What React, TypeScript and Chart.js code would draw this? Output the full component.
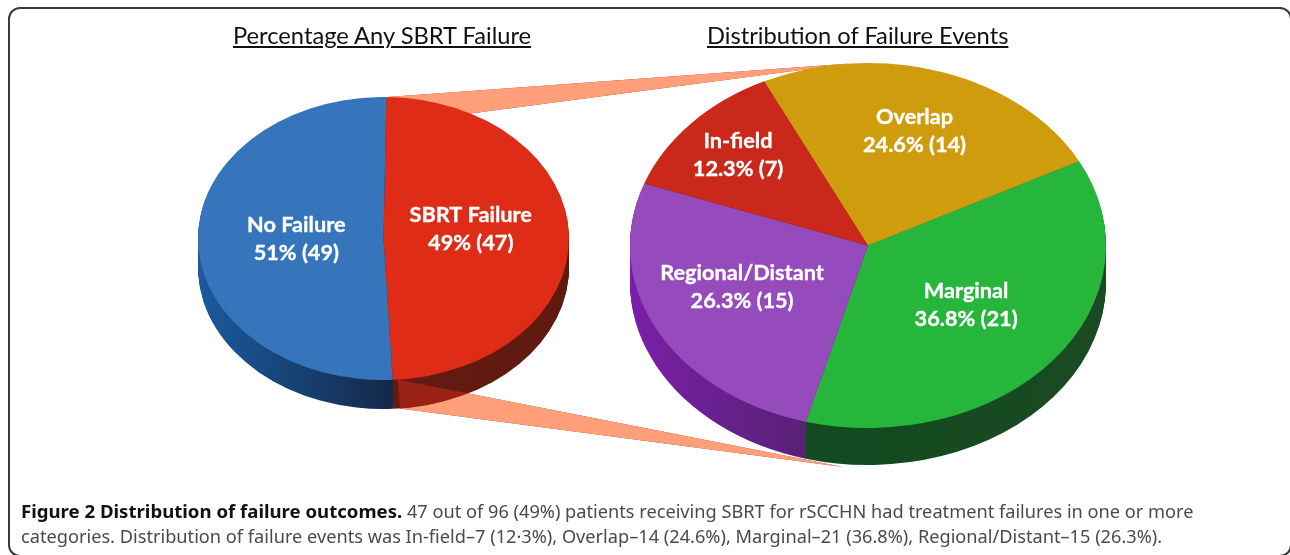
import React, { useEffect, useRef } from "react";
import { Chart, registerables } from "chart.js";

Chart.register(...registerables);

// ---------- data ----------
const failureLabels = ["SBRT Failure", "No Failure"];
const failureValues = [47, 49];
const failureShares = ["49% (47)", "51% (49)"];

const eventLabels = ["Overlap", "Marginal", "Regional/Distant", "In-field"];
const eventValues = [14, 21, 15, 7];
const eventShares = ["24.6% (14)", "36.8% (21)", "26.3% (15)", "12.3% (7)"];

// ---------- styles ----------
const failureColors = ["#de2c17", "#3675bb"];
const failureSides = [["#6b1a10", "#5f1a10"], ["#1b5a9e", "#14294a"]];
const eventColors = ["#cf9c0e", "#26b63b", "#964bbd", "#c9281a"];
const eventSides = [["#7a5c08", "#7a5c08"], ["#0f4a20", "#1a4a22"], ["#7a1fa8", "#4a2260"], ["#6b1a10", "#6b1a10"]];

const W = 1290;
const H = 555;
const FONT = "Lato, 'Noto Sans', sans-serif";
const PEACH = "#ffa07a";
const OVERLAP = "#9b2015";

type Geo = { cx: number; cy: number; rx: number; ry: number; depth: number; rotation: number };
const leftGeo: Geo = { cx: 383.5, cy: 238.5, rx: 185.5, ry: 141.5, depth: 29, rotation: 0.9 };
const rightGeo: Geo = { cx: 868, cy: 245.5, rx: 238, ry: 182.5, depth: 37, rotation: -25.9 };

const rim = (g: Geo, deg: number, drop = 0): [number, number] => {
  const a = (deg * Math.PI) / 180;
  return [g.cx + g.rx * Math.sin(a), g.cy - g.ry * Math.cos(a) + drop];
};

const leftBands = (): [number, number][][] => [
  [rim(leftGeo, 1.2), rim(rightGeo, -4.3), rim(leftGeo, 28)],
  [rim(leftGeo, 175.7), rim(rightGeo, 186, rightGeo.depth + 3), rim(leftGeo, 174.9, leftGeo.depth)],
];

type LayerProps = {
  geo: Geo;
  labels: string[];
  values: number[];
  shares: string[];
  colors: string[];
  sides: string[][];
  labelRadius: number[];
  labelTurn: number[];
  bands?: () => [number, number][][];
  z: number;
};

function PieLayer(p: LayerProps) {
  const ref = useRef<HTMLCanvasElement>(null);
  useEffect(() => {
    const { geo } = p;
    const k = geo.ry / geo.rx;
    const squash = (ctx: CanvasRenderingContext2D, y0: number, drop: number) => {
      ctx.translate(0, geo.cy + drop);
      ctx.scale(1, k);
      ctx.translate(0, -y0);
    };
    const plugin = {
      id: "tiltedPie",
      beforeDatasetsDraw(chart: any) {
        const ctx: CanvasRenderingContext2D = chart.ctx;
        const arcs = chart.getDatasetMeta(0).data;
        const y0 = arcs[0].y;
        const left = geo.cx - geo.rx;
        const front = p.sides.map((s) => {
          const g = ctx.createLinearGradient(left, 0, left + (s[0] === "#1b5a9e" || s[0] === "#7a1fa8" ? geo.rx * 1.04 : geo.rx * 2), 0);
          g.addColorStop(0, s[0]);
          g.addColorStop(1, s[1]);
          return g;
        });
        for (let d = geo.depth; d >= 1; d--) {
          ctx.save();
          squash(ctx, y0, d);
          arcs.forEach((arc: any, i: number) => {
            const saved = arc.options;
            arc.options = Object.assign(Object.create(saved), { backgroundColor: front[i], borderWidth: 0 });
            arc.draw(ctx);
            arc.options = saved;
          });
          ctx.restore();
        }
        if (p.bands) {
          p.bands().forEach((pts) => {
            const path = new Path2D();
            pts.forEach(([x, y], i) => (i ? path.lineTo(x, y) : path.moveTo(x, y)));
            path.closePath();
            ctx.save();
            ctx.globalCompositeOperation = "darken";
            ctx.fillStyle = PEACH;
            ctx.fill(path);
            ctx.globalCompositeOperation = "lighten";
            ctx.fillStyle = OVERLAP;
            ctx.fill(path);
            ctx.restore();
          });
        }
      },
      beforeDatasetDraw(chart: any) {
        const ctx: CanvasRenderingContext2D = chart.ctx;
        ctx.save();
        squash(ctx, chart.getDatasetMeta(0).data[0].y, 0);
      },
      afterDatasetDraw(chart: any) {
        chart.ctx.restore();
      },
      afterDatasetsDraw(chart: any) {
        const ctx: CanvasRenderingContext2D = chart.ctx;
        ctx.save();
        ctx.fillStyle = "#ffffff";
        ctx.strokeStyle = "#ffffff";
        ctx.lineWidth = 0.35;
        ctx.textAlign = "center";
        ctx.textBaseline = "middle";
        ctx.font = `bold 21.7px ${FONT}`;
        chart.getDatasetMeta(0).data.forEach((arc: any, i: number) => {
          const mid = (arc.startAngle + arc.endAngle) / 2 + (p.labelTurn[i] * Math.PI) / 180;
          const x = geo.cx + Math.cos(mid) * geo.rx * p.labelRadius[i];
          const y = geo.cy + Math.sin(mid) * geo.ry * p.labelRadius[i];
          ctx.fillText(p.labels[i], x, y - 14);
          ctx.strokeText(p.labels[i], x, y - 14);
          ctx.fillText(p.shares[i], x, y + 14);
          ctx.strokeText(p.shares[i], x, y + 14);
        });
        ctx.restore();
      },
    };
    const vertical = (H - 2 * geo.rx) / 2;
    const chart = new Chart(ref.current as HTMLCanvasElement, {
      type: "pie",
      data: {
        labels: p.labels,
        datasets: [{ data: p.values, backgroundColor: p.colors, borderWidth: 0, clip: false } as any],
      },
      options: {
        animation: false,
        responsive: false,
        devicePixelRatio: 1,
        rotation: geo.rotation,
        layout: {
          padding: { left: geo.cx - geo.rx, right: W - geo.cx - geo.rx, top: vertical, bottom: vertical },
        },
        plugins: { legend: { display: false }, tooltip: { enabled: false } },
      } as any,
      plugins: [plugin as any],
    });
    return () => chart.destroy();
  }, []);
  return (
    <canvas
      ref={ref}
      width={W}
      height={H}
      style={{ position: "absolute", left: 0, top: 0, zIndex: p.z }}
    />
  );
}

const titleStyle: React.CSSProperties = {
  position: "absolute",
  top: 20,
  fontFamily: FONT,
  fontSize: 23.7,
  lineHeight: "30px",
  color: "#111",
  textDecoration: "underline",
  whiteSpace: "nowrap",
  zIndex: 3,
};

const captionStyle: React.CSSProperties = {
  position: "absolute",
  left: 21,
  fontFamily: "'Noto Sans', sans-serif",
  fontSize: 18.2,
  lineHeight: "24px",
  color: "#4a4a4a",
  whiteSpace: "nowrap",
  zIndex: 3,
};

export default function App() {
  return (
    <div style={{ position: "fixed", left: 0, top: 0, width: W, height: H, overflow: "hidden", background: "#fff" }}>
      <div
        style={{
          position: "absolute",
          left: 8,
          top: 7,
          width: 1284,
          height: 550,
          boxSizing: "border-box",
          border: "2px solid #3a3a3a",
          borderRadius: 12,
        }}
      />
      <div style={{ ...titleStyle, left: 233 }}>Percentage Any SBRT Failure</div>
      <div style={{ ...titleStyle, left: 707 }}>Distribution of Failure Events</div>
      <PieLayer
        geo={leftGeo}
        labels={failureLabels}
        values={failureValues}
        shares={failureShares}
        colors={failureColors}
        sides={failureSides}
        labelRadius={[0.475, 0.47]}
        labelTurn={[-7.1, 0.3]}
        bands={leftBands}
        z={1}
      />
      <PieLayer
        geo={rightGeo}
        labels={eventLabels}
        values={eventValues}
        shares={eventShares}
        colors={eventColors}
        sides={eventSides}
        labelRadius={[0.657, 0.527, 0.576, 0.736]}
        labelTurn={[-1, -0.3, 4.2, 0.1]}
        z={2}
      />
      <div style={{ ...captionStyle, top: 499 }}>
        <b style={{ color: "#111", fontSize: 18.6 }}>Figure 2 Distribution of failure outcomes.</b> 47 out of 96 (49%) patients receiving SBRT for rSCCHN had treatment failures in one or more
      </div>
      <div style={{ ...captionStyle, top: 524 }}>
        categories. Distribution of failure events was In-field–7 (12·3%), Overlap–14 (24.6%), Marginal–21 (36.8%), Regional/Distant–15 (26.3%).
      </div>
    </div>
  );
}
